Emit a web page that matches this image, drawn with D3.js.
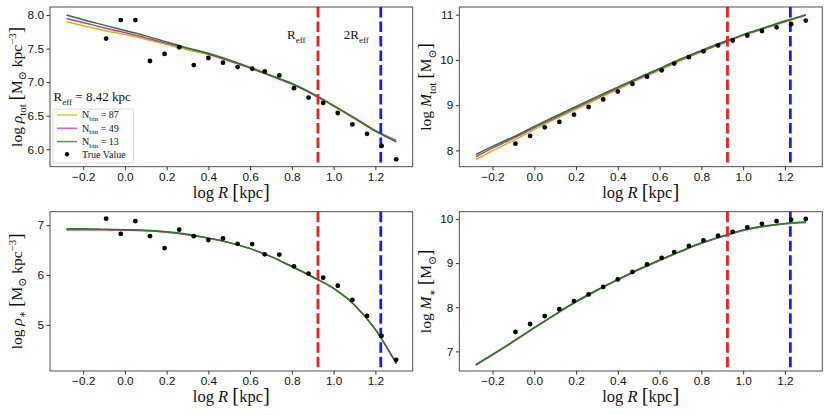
<!DOCTYPE html>
<html>
<head>
<meta charset="utf-8">
<script src="https://cdn.jsdelivr.net/npm/d3@7"></script>
<style>
    body { margin: 0; background: #fff; }
    svg { display: block; font-family: "Liberation Serif", "DejaVu Serif", serif; }
    text { white-space: pre; fill: #111; }
    .tick text { font-size: 11.8px; }
    .tick line { stroke: #333; }
</style>
</head>
<body>
<div id="chart"></div>
<script>
    // Radii of the model curves and of the "true" points (log R in kpc).
const lineR = [-0.28, -0.2, -0.1, 0.0, 0.1, 0.2, 0.3, 0.4, 0.5, 0.6, 0.7, 0.8, 0.9, 1.0, 1.1, 1.2, 1.3];
const pointR = [-0.09, -0.02, 0.05, 0.12, 0.19, 0.26, 0.33, 0.40, 0.47, 0.54, 0.61, 0.67, 0.74, 0.81, 0.88, 0.95, 1.02, 1.09, 1.16, 1.23, 1.30];

    // Number of bins for each model curve (legend order).
const binCounts = [87, 49, 13];

    // Effective radius and twice it.
const rEff = 8.42;
const logREff = 0.925;
const log2REff = 1.226;

    // Tick values.
const xTicks = [-0.2, 0.0, 0.2, 0.4, 0.6, 0.8, 1.0, 1.2];
const rhoTotTicks = [6.0, 6.5, 7.0, 7.5, 8.0];
const mTotTicks = [8, 9, 10, 11];
const rhoStarTicks = [5, 6, 7];
const mStarTicks = [7, 8, 9, 10];

    // log rho_tot, one array per bin count, and the true values.
const rhoTot87 = [7.90, 7.84, 7.77, 7.71, 7.64, 7.56, 7.48, 7.41, 7.31, 7.21, 7.09, 6.97, 6.82, 6.64, 6.46, 6.27, 6.12];
const rhoTot49 = [7.95, 7.89, 7.81, 7.74, 7.66, 7.58, 7.50, 7.42, 7.32, 7.21, 7.09, 6.97, 6.82, 6.65, 6.47, 6.28, 6.13];
const rhoTot13 = [8.00, 7.93, 7.85, 7.77, 7.69, 7.60, 7.51, 7.43, 7.33, 7.22, 7.10, 6.98, 6.83, 6.65, 6.46, 6.27, 6.11];
const rhoTotTrue = [7.65, 7.925, 7.925, 7.315, 7.42, 7.52, 7.255, 7.36, 7.29, 7.225, 7.20, 7.16, 7.10, 6.91, 6.77, 6.69, 6.54, 6.37, 6.23, 6.05, 5.85];

    // log M_tot.
const mTot87 = [7.80, 7.99, 8.22, 8.46, 8.69, 8.91, 9.13, 9.35, 9.57, 9.77, 9.98, 10.18, 10.36, 10.54, 10.69, 10.84, 10.99];
const mTot49 = [7.86, 8.05, 8.27, 8.50, 8.72, 8.94, 9.16, 9.38, 9.59, 9.79, 10.00, 10.19, 10.37, 10.55, 10.70, 10.85, 10.99];
const mTot13 = [7.91, 8.09, 8.30, 8.53, 8.75, 8.97, 9.19, 9.40, 9.61, 9.81, 10.02, 10.21, 10.39, 10.56, 10.71, 10.86, 11.00];
const mTotTrue = [8.15, 8.32, 8.51, 8.63, 8.79, 8.96, 9.125, 9.30, 9.47, 9.63, 9.77, 9.92, 10.06, 10.19, 10.32, 10.43, 10.54, 10.64, 10.72, 10.79, 10.87];

    // log rho_star.
const rhoStar87 = [6.91, 6.91, 6.91, 6.90, 6.89, 6.86, 6.81, 6.74, 6.65, 6.53, 6.37, 6.17, 5.96, 5.73, 5.40, 4.91, 4.23];
const rhoStar49 = [6.91, 6.91, 6.91, 6.90, 6.89, 6.86, 6.81, 6.74, 6.65, 6.53, 6.37, 6.17, 5.96, 5.73, 5.40, 4.91, 4.23];
const rhoStar13 = [6.93, 6.93, 6.92, 6.91, 6.90, 6.87, 6.82, 6.74, 6.65, 6.53, 6.37, 6.17, 5.96, 5.73, 5.40, 4.91, 4.22];
const rhoStarTrue = [7.13, 6.825, 7.08, 6.78, 6.54, 6.91, 6.78, 6.70, 6.735, 6.625, 6.62, 6.415, 6.41, 6.175, 6.03, 5.945, 5.785, 5.50, 5.18, 4.78, 4.30];

    // log M_star.
const mStar87 = [6.69, 6.92, 7.22, 7.53, 7.83, 8.12, 8.38, 8.62, 8.85, 9.06, 9.26, 9.45, 9.60, 9.74, 9.83, 9.89, 9.92];
const mStar49 = [6.69, 6.92, 7.22, 7.53, 7.83, 8.12, 8.38, 8.62, 8.85, 9.06, 9.26, 9.45, 9.60, 9.74, 9.83, 9.89, 9.92];
const mStar13 = [6.70, 6.93, 7.23, 7.54, 7.84, 8.13, 8.39, 8.63, 8.86, 9.07, 9.27, 9.46, 9.61, 9.75, 9.84, 9.90, 9.93];
const mStarTrue = [7.44, 7.62, 7.80, 7.955, 8.14, 8.29, 8.46, 8.63, 8.80, 8.97, 9.12, 9.25, 9.39, 9.515, 9.62, 9.71, 9.81, 9.89, 9.95, 9.98, 10.0];

    // Line colours follow the matplotlib "y", "m", "g" shorthands.
const curveColors = ["#c4c400", "#cc2ccc", "#1f801f"];

    // Writes a label made of plain, italic, subscript and superscript pieces.
function richText(textSel, parts, size) {
    let shift = 0;
    parts.forEach(([str, kind]) => {
        const target = kind === "sub" ? size * 0.28 : kind === "sup" ? -size * 0.42 : 0;
        const ts = textSel.append("tspan")
            .attr("dy", target - shift)
            .text(str);
        shift = target;
        if (kind === "sub" || kind === "sup") ts.attr("font-size", size * 0.7);
        if (kind === "i") ts.attr("font-style", "italic");
        if (kind === "big") ts.attr("font-size", size * 1.25);
    });
}

function drawChart() {
    const width = 830;
    const height = 415;

    const svg = d3.select("#chart")
        .append("svg")
        .attr("width", width)
        .attr("height", height)
        .attr("viewBox", `0 0 ${width} ${height}`);

        // Pixel boxes of the two columns and two rows.
    const cols = [[50, 412.7], [459.3, 822.3]];
    const rows = [[7, 166.7], [211.7, 371]];

    const xLabel = [["log ", "n"], ["R", "i"], [" ", "n"], ["[", "big"], ["kpc", "n"], ["]", "big"]];

    const panels = [
        {
            col: 0, row: 0, yDomain: [5.74, 8.12], yTicks: rhoTotTicks, fmt: ".1f",
            curves: [rhoTot87, rhoTot49, rhoTot13], truth: rhoTotTrue,
            label: [["log ", "n"], ["ρ", "i"], ["tot", "sub"], [" ", "n"], ["[", "big"], ["M", "n"], ["⊙", "sub"], [" kpc", "n"], ["−3", "sup"], ["]", "big"]]
        },
        {
            col: 1, row: 0, yDomain: [7.64, 11.17], yTicks: mTotTicks, fmt: "d",
            curves: [mTot87, mTot49, mTot13], truth: mTotTrue,
            label: [["log ", "n"], ["M", "i"], ["tot", "sub"], [" ", "n"], ["[", "big"], ["M", "n"], ["⊙", "sub"], ["]", "big"]]
        },
        {
            col: 0, row: 1, yDomain: [4.075, 7.27], yTicks: rhoStarTicks, fmt: "d",
            curves: [rhoStar87, rhoStar49, rhoStar13], truth: rhoStarTrue,
            label: [["log ", "n"], ["ρ", "i"], ["∗", "sub"], [" ", "n"], ["[", "big"], ["M", "n"], ["⊙", "sub"], [" kpc", "n"], ["−3", "sup"], ["]", "big"]]
        },
        {
            col: 1, row: 1, yDomain: [6.555, 10.165], yTicks: mStarTicks, fmt: "d",
            curves: [mStar87, mStar49, mStar13], truth: mStarTrue,
            label: [["log ", "n"], ["M", "i"], ["∗", "sub"], [" ", "n"], ["[", "big"], ["M", "n"], ["⊙", "sub"], ["]", "big"]]
        }
    ];

    panels.forEach((p, i) => {
        const [x0, x1] = cols[p.col];
        const [y0, y1] = rows[p.row];

            // Same radial range for every panel, padded like matplotlib.
        const x = d3.scaleLinear().domain([-0.359, 1.379]).range([x0, x1]);
        const y = d3.scaleLinear().domain(p.yDomain).range([y1, y0]);

        const line = d3.line()
            .x((d, j) => x(lineR[j]))
            .y(d => y(d))
            .curve(d3.curveMonotoneX);

        const g = svg.append("g");

            // Clip so dashed lines stay inside the frame.
        svg.append("clipPath")
            .attr("id", `clip${i}`)
            .append("rect")
            .attr("x", x0).attr("y", y0)
            .attr("width", x1 - x0).attr("height", y1 - y0);

        const plot = g.append("g").attr("clip-path", `url(#clip${i})`);

            // Model curves, 87 bins first so 13 bins sits on top.
        plot.selectAll(".curve")
            .data(p.curves)
            .join("path")
            .attr("class", "curve")
            .attr("d", d => line(d))
            .attr("fill", "none")
            .attr("stroke", (d, j) => curveColors[j])
            .attr("stroke-width", 1.5);

            // Effective radius markers.
        plot.selectAll(".vline")
            .data([[logREff, "#ff1a1a"], [log2REff, "#1a1aff"]])
            .join("line")
            .attr("class", "vline")
            .attr("x1", d => x(d[0]))
            .attr("x2", d => x(d[0]))
            .attr("y1", y0)
            .attr("y2", y1)
            .attr("stroke", d => d[1])
            .attr("stroke-width", 2.8)
            .attr("stroke-dasharray", "10.5,4");

            // True values.
        plot.selectAll(".pt")
            .data(p.truth)
            .join("circle")
            .attr("class", "pt")
            .attr("cx", (d, j) => x(pointR[j]))
            .attr("cy", d => y(d))
            .attr("r", 2.4)
            .attr("fill", "#000");

            // Axes.
        const xAxis = g.append("g")
            .attr("transform", `translate(0,${y1})`)
            .call(d3.axisBottom(x).tickValues(xTicks).tickFormat(d3.format(".1f")).tickSize(3.5).tickPadding(2.5));
        const yAxis = g.append("g")
            .attr("transform", `translate(${x0},0)`)
            .call(d3.axisLeft(y).tickValues(p.yTicks).tickFormat(d3.format(p.fmt)).tickSize(3.5).tickPadding(2.5));
        [xAxis, yAxis].forEach(a => {
            a.select(".domain").remove();
            a.selectAll("text").attr("font-family", null).attr("font-size", null).attr("fill", "#111");
        });

            // Frame.
        g.append("rect")
            .attr("x", x0).attr("y", y0)
            .attr("width", x1 - x0).attr("height", y1 - y0)
            .attr("fill", "none")
            .attr("stroke", "#3a3a3a")
            .attr("stroke-width", 0.9);

            // Axis titles.
        const xt = g.append("text")
            .attr("x", (x0 + x1) / 2)
            .attr("y", y1 + 31)
            .attr("text-anchor", "middle")
            .attr("font-size", 16.5);
        richText(xt, xLabel, 16.5);

        const yt = g.append("text")
            .attr("transform", `translate(${x0 - 28},${(y0 + y1) / 2}) rotate(-90)`)
            .attr("text-anchor", "middle")
            .attr("font-size", 15.5);
        richText(yt, p.label, 15.5);

        if (i === 0) {
            [[x(logREff) - 31, ""], [x(log2REff) - 37, "2"]].forEach(([tx, pre]) => {
                const t = g.append("text")
                    .attr("x", tx)
                    .attr("y", 39)
                    .attr("font-size", 13);
                richText(t, [[pre + "R", "n"], ["eff", "sub"]], 13);
            });

                // Legend title and box.
            const lt = g.append("text")
                .attr("x", 53.5)
                .attr("y", 101)
                .attr("font-size", 13);
            richText(lt, [["R", "n"], ["eff", "sub"], [" = 8.42 kpc", "n"]], 13);

            g.append("rect")
                .attr("x", 53).attr("y", 109)
                .attr("width", 80.5).attr("height", 54)
                .attr("rx", 2.5)
                .attr("fill", "#fff")
                .attr("fill-opacity", 0.8)
                .attr("stroke", "#d0d0d0")
                .attr("stroke-width", 0.8);

            const rowsY = [115, 128.3, 141.6, 154.2];
            binCounts.forEach((n, j) => {
                g.append("line")
                    .attr("x1", 57).attr("x2", 77)
                    .attr("y1", rowsY[j]).attr("y2", rowsY[j])
                    .attr("stroke", curveColors[j])
                    .attr("stroke-opacity", 0.75)
                    .attr("stroke-width", 1.6);
                const t = g.append("text")
                    .attr("x", 82)
                    .attr("y", rowsY[j] + 3.3)
                    .attr("font-size", 10);
                richText(t, [["N", "n"], ["bin", "sub"], [" = " + n, "n"]], 10);
            });
            g.append("circle")
                .attr("cx", 67).attr("cy", rowsY[3])
                .attr("r", 2.2)
                .attr("fill", "#000");
            g.append("text")
                .attr("x", 82)
                .attr("y", rowsY[3] + 3.3)
                .attr("font-size", 10)
                .text("True Value");
        }
    });
}

drawChart();
</script>
</body>
</html>
